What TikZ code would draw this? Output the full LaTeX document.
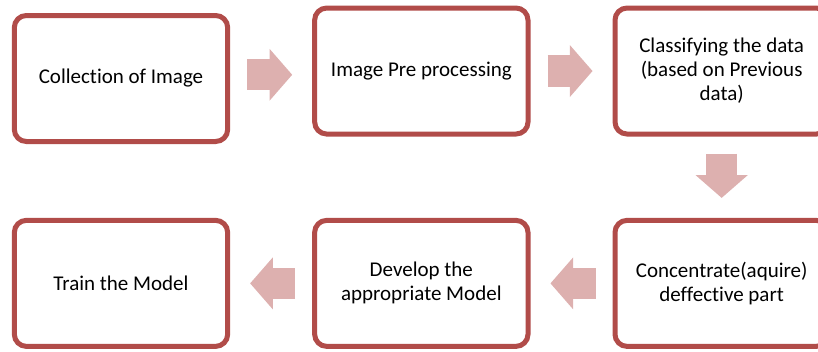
\documentclass[tikz,border=0pt]{standalone}
\usepackage{fontspec}
\setmainfont[Ligatures=NoCommon]{Carlito}
\usepackage{xcolor}
\usepackage{tikz}
\usetikzlibrary{arrows.meta,positioning,calc}
\definecolor{boxred}{HTML}{B14C49}
\definecolor{arrowpink}{HTML}{DDB0AF}

\begin{document}
\begin{tikzpicture}[x=0.75pt,y=-0.75pt,node distance=61pt and 61.5pt,stepbox/.style={draw=boxred,line width=3.75pt,rounded corners=9pt,fill=white,align=center,minimum width=160pt,minimum height=94.5pt,font=\fontsize{15.75}{18}\selectfont},flow/.style={draw=arrowpink,line width=23.5pt,-{Triangle[width=39pt,length=17pt,line width=0pt]},shorten <=12.75pt,shorten >=15pt}]
\useasboundingbox (0,0) rectangle (818,351);
\clip (0,0) rectangle (818,351);
\node[stepbox] (coll) at (121,78.5) {Collection of Image};
\node[stepbox,right=of coll,yshift=5.6pt] (pre) {Image Pre processing};
\node[stepbox,right=of pre] (cls) {Classifying the data\\(based on Previous\\data)};
\node[stepbox,below=of cls] (conc) {Concentrate(aquire)\\deffective part};
\node[stepbox,left=of conc] (dev) {Develop the\\appropriate Model};
\node[stepbox,left=of dev] (train) {Train the Model};
\coordinate (m1) at ($(coll.east)!.5!(pre.west)$);
\draw[flow] (m1 -| coll.east) -- (m1 -| pre.west);
\draw[flow] (pre) -- (cls);
\draw[flow] (cls) -- (conc);
\draw[flow] (conc) -- (dev);
\draw[flow] (dev) -- (train);
\end{tikzpicture}
\end{document}
